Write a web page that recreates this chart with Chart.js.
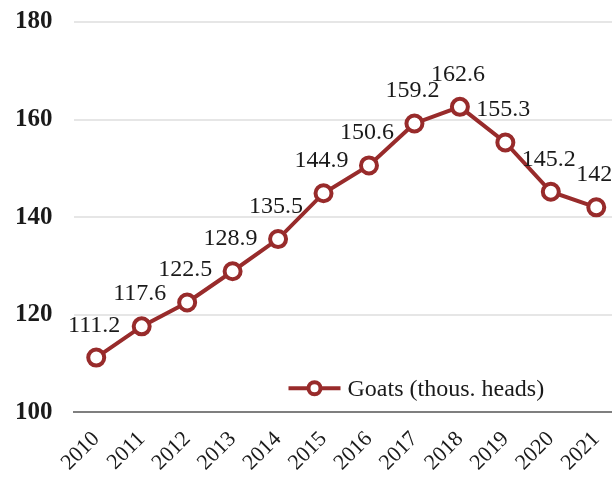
<!DOCTYPE html>
<html lang="en">
<head>
    <meta charset="UTF-8">
    <title>Goats (thous. heads)</title>
    <style>
        html, body {
            margin: 0;
            padding: 0;
            background: #ffffff;
            overflow: hidden;
        }
        #wrap {
            width: 651px;
            height: 505px;
            margin-left: -20px;
            margin-top: -14px;
        }
    </style>
</head>
<body>
    <div id="wrap"><canvas id="chart"></canvas></div>

    <script src="https://cdn.jsdelivr.net/npm/chart.js"></script>
    <script>
        // data
        const years = ['2010', '2011', '2012', '2013', '2014', '2015', '2016', '2017', '2018', '2019', '2020', '2021'];
        const goats = [111.2, 117.6, 122.5, 128.9, 135.5, 144.9, 150.6, 159.2, 162.6, 155.3, 145.2, 142];
        const seriesName = 'Goats (thous. heads)';
        const yTicks = [100, 120, 140, 160, 180];

        const red = '#982b2b';
        const serif = "'Liberation Serif', 'Times New Roman', serif";

        // value labels above each point
        const valueLabels = {
            id: 'valueLabels',
            afterDatasetsDraw(chart) {
                const ctx = chart.ctx;
                const meta = chart.getDatasetMeta(0);
                ctx.save();
                ctx.font = '24px ' + serif;
                ctx.fillStyle = '#1a1a1a';
                ctx.textAlign = 'center';
                ctx.textBaseline = 'alphabetic';
                meta.data.forEach((pt, i) => {
                    ctx.fillText(String(goats[i]), pt.x - 2, pt.y - 26);
                });
                ctx.restore();
            }
        };

        // legend drawn inside the plot, lower right
        const innerLegend = {
            id: 'innerLegend',
            afterDraw(chart) {
                const ctx = chart.ctx;
                const area = chart.chartArea;
                const y = area.bottom - 24;
                const x0 = area.left + 215;
                ctx.save();
                ctx.strokeStyle = red;
                ctx.lineWidth = 4;
                ctx.beginPath();
                ctx.moveTo(x0, y);
                ctx.lineTo(x0 + 52, y);
                ctx.stroke();
                ctx.beginPath();
                ctx.arc(x0 + 26, y, 6, 0, Math.PI * 2);
                ctx.fillStyle = '#ffffff';
                ctx.fill();
                ctx.stroke();
                ctx.font = '24px ' + serif;
                ctx.fillStyle = '#1a1a1a';
                ctx.textAlign = 'left';
                ctx.textBaseline = 'middle';
                ctx.fillText(seriesName, x0 + 59, y + 1);
                ctx.restore();
            }
        };

        new Chart(document.getElementById('chart'), {
            type: 'line',
            data: {
                labels: years,
                datasets: [{
                    label: seriesName,
                    data: goats,
                    borderColor: red,
                    borderWidth: 4,
                    backgroundColor: '#ffffff',
                    pointBackgroundColor: '#ffffff',
                    pointBorderColor: red,
                    pointBorderWidth: 4,
                    pointRadius: 8,
                    tension: 0
                }]
            },
            options: {
                responsive: true,
                maintainAspectRatio: false,
                animation: false,
                layout: { padding: { left: 14, top: 0, right: 0, bottom: 9 } },
                plugins: {
                    legend: { display: false },
                    tooltip: { enabled: false }
                },
                scales: {
                    x: {
                        offset: true,
                        grid: { display: false },
                        border: { display: true, color: '#7f7f7f', width: 2 },
                        ticks: {
                            color: '#1a1a1a',
                            font: { family: serif, size: 22 },
                            minRotation: 45,
                            maxRotation: 45,
                            padding: 6
                        }
                    },
                    y: {
                        min: 100,
                        max: 180,
                        afterBuildTicks(axis) {
                            axis.ticks = yTicks.map(v => ({ value: v }));
                        },
                        border: { display: false },
                        grid: {
                            drawTicks: false,
                            lineWidth: 2,
                            color: ctx => ctx.tick && ctx.tick.value === 100 ? 'rgba(0,0,0,0)' : '#e6e6e6'
                        },
                        ticks: {
                            color: '#1a1a1a',
                            font: { family: serif, size: 25, weight: 'bold' },
                            padding: 21
                        }
                    }
                }
            },
            plugins: [valueLabels, innerLegend]
        });
    </script>
</body>
</html>
